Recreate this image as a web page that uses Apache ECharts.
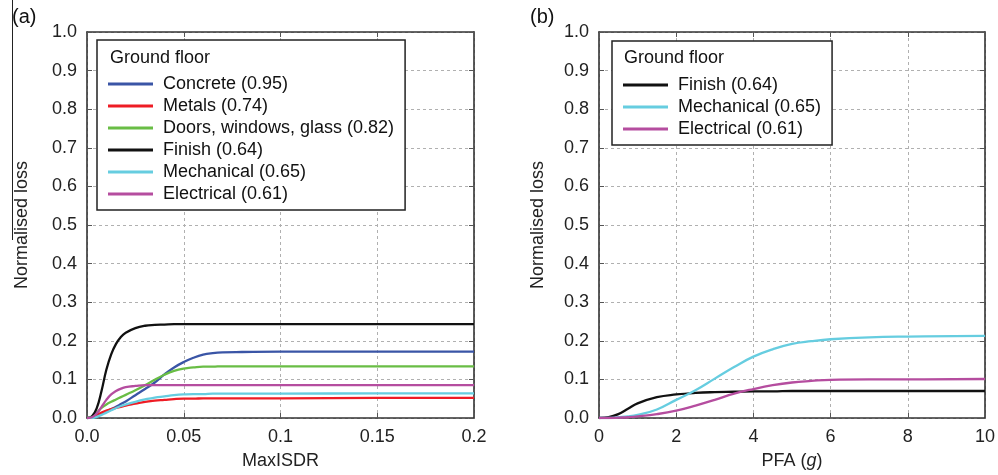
<!DOCTYPE html>
<html><head><meta charset="utf-8">
<script src="https://cdn.jsdelivr.net/npm/echarts@6/dist/echarts.min.js"></script>
<style>html,body{margin:0;padding:0;background:#fff}#c{width:998px;height:475px}</style>
</head><body><div id="c"></div>
<script>
// ---- Panel (a): MaxISDR ----
const xA = [0,0.0025,0.005,0.0075,0.01,0.0125,0.015,0.0175,0.02,0.025,0.03,0.035,0.04,0.045,0.05,0.055,0.06,0.065,0.07,0.08,0.1,0.15,0.2];
const concreteA = [0,0.001,0.005,0.011,0.017,0.023,0.029,0.036,0.043,0.059,0.075,0.092,0.113,0.131,0.145,0.156,0.164,0.168,0.17,0.171,0.172,0.172,0.172];
const metalsA   = [0,0.002,0.008,0.014,0.019,0.023,0.026,0.029,0.032,0.037,0.042,0.045,0.047,0.049,0.05,0.05,0.051,0.051,0.051,0.051,0.051,0.052,0.052];
const doorsA    = [0,0.004,0.014,0.026,0.035,0.042,0.048,0.054,0.06,0.072,0.085,0.099,0.112,0.122,0.128,0.131,0.133,0.133,0.134,0.134,0.134,0.134,0.134];
const finishA   = [0,0.004,0.025,0.07,0.125,0.165,0.192,0.21,0.221,0.233,0.239,0.241,0.242,0.243,0.243,0.243,0.243,0.243,0.243,0.243,0.243,0.243,0.243];
const mechA     = [0,0,0.003,0.008,0.014,0.02,0.026,0.031,0.035,0.042,0.048,0.053,0.056,0.059,0.061,0.062,0.062,0.063,0.063,0.063,0.063,0.064,0.064];
const elecA     = [0,0.002,0.012,0.029,0.047,0.061,0.07,0.076,0.08,0.083,0.085,0.085,0.085,0.085,0.085,0.085,0.085,0.085,0.085,0.085,0.085,0.085,0.085];
const xTicksA = ['0.0','0.05','0.1','0.15','0.2'];

// ---- Panel (b): PFA (g) ----
const xB = [0,0.25,0.5,0.75,1,1.5,2,2.5,3,3.5,4,4.5,5,5.5,6,7,8,10];
const finishB = [0,0.002,0.01,0.024,0.038,0.054,0.061,0.065,0.067,0.068,0.069,0.069,0.07,0.07,0.07,0.07,0.07,0.07];
const mechB   = [0,0,0.002,0.004,0.008,0.022,0.047,0.072,0.102,0.132,0.159,0.178,0.192,0.199,0.204,0.209,0.211,0.213];
const elecB   = [0,0,0.001,0.002,0.004,0.01,0.019,0.032,0.047,0.063,0.075,0.085,0.092,0.096,0.099,0.1,0.1,0.101];
const xTicksB = ['0','2','4','6','8','10'];

const namesA = ['Concrete (0.95)','Metals (0.74)','Doors, windows, glass (0.82)','Finish (0.64)','Mechanical (0.65)','Electrical (0.61)'];
const namesB = ['Finish (0.64)','Mechanical (0.65)','Electrical (0.61)'];
const colors = {
  'Concrete (0.95)':'#3a55a6','Metals (0.74)':'#ee1c25','Doors, windows, glass (0.82)':'#69bd45',
  'Finish (0.64)':'#111111','Mechanical (0.65)':'#66cde0','Electrical (0.61)':'#b54d9f'
};

const FONT = 'Liberation Sans, Arial, sans-serif';
const zip = (xs, ys) => xs.map((x,i)=>[x, ys[i]]);

function mkSeries(name, xs, ys, idx) {
  return {
    name, type:'line', xAxisIndex: idx, yAxisIndex: idx, data: zip(xs, ys),
    showSymbol:false, smooth:0.45,
    lineStyle:{color:colors[name], width:2.3}, itemStyle:{color:colors[name]},
    z: 3
  };
}

const gridLine = {show:true, lineStyle:{color:'#b0b0b0', type:[3,3], width:1}};
const labelStyle = {color:'#222', fontSize:18, fontFamily:FONT};

function xMain(idx, max, interval, ticks, name) {
  return {
    type:'value', gridIndex: idx, min:0, max, interval, position:'bottom',
    axisLine:{show:true, onZero:false, lineStyle:{color:'#333', width:1.6}},
    axisTick:{show:true, inside:true, length:5, lineStyle:{color:'#555'}},
    splitLine: gridLine,
    axisLabel: Object.assign({margin:10, formatter:(v)=>ticks[Math.round(v/interval)]}, labelStyle),
    name, nameLocation:'middle', nameGap:34,
    nameTextStyle:{color:'#222', fontSize:18, fontFamily:FONT,
      rich:{a:{fontSize:18, fontFamily:FONT, color:'#222'}, i:{fontSize:18, fontFamily:FONT, fontStyle:'italic', color:'#222'}}}
  };
}
function xTop(idx, max, interval) {
  return {
    type:'value', gridIndex: idx, min:0, max, interval, position:'top',
    axisLine:{show:true, onZero:false, lineStyle:{color:'#333', width:1.6}},
    axisTick:{show:true, inside:true, length:5, lineStyle:{color:'#555'}},
    splitLine:{show:false}, axisLabel:{show:false}
  };
}
function yMain(idx, gap) {
  return {
    type:'value', gridIndex: idx, min:0, max:1, interval:0.1, position:'left',
    axisLine:{show:true, onZero:false, lineStyle:{color:'#333', width:1.6}},
    axisTick:{show:true, inside:true, length:5, lineStyle:{color:'#555'}},
    splitLine: gridLine,
    axisLabel: Object.assign({margin:10, formatter:(v)=>v.toFixed(1)}, labelStyle),
    name:'Normalised loss', nameLocation:'middle', nameGap:gap,
    nameTextStyle:{color:'#222', fontSize:18, fontFamily:FONT}
  };
}
function yRight(idx) {
  return {
    type:'value', gridIndex: idx, min:0, max:1, interval:0.1, position:'right',
    axisLine:{show:true, onZero:false, lineStyle:{color:'#333', width:1.6}},
    axisTick:{show:true, inside:true, length:5, lineStyle:{color:'#555'}},
    splitLine:{show:false}, axisLabel:{show:false}
  };
}

const series = [
  mkSeries(namesA[0], xA, concreteA, 0),
  mkSeries(namesA[1], xA, metalsA, 0),
  mkSeries(namesA[2], xA, doorsA, 0),
  mkSeries(namesA[3], xA, finishA, 0),
  mkSeries(namesA[4], xA, mechA, 0),
  mkSeries(namesA[5], xA, elecA, 0),
  mkSeries(namesB[0], xB, finishB, 1),
  mkSeries(namesB[1], xB, mechB, 1),
  mkSeries(namesB[2], xB, elecB, 1)
];

const legendBase = {
  orient:'vertical', icon:'rect', itemWidth:45, itemHeight:3, itemGap:0,
  backgroundColor:'#fff', borderColor:'#222', borderWidth:1.5, borderRadius:0,
  textStyle:{color:'#111', fontSize:18, fontFamily:FONT, lineHeight:22, padding:[0,0,0,5]},
  selectedMode:false, z:10
};

const option = {
  backgroundColor:'#fff',
  animation:false,
  grid:[
    {left:87, top:32, width:387, height:387, containLabel:false},
    {left:599, top:32, width:388, height:387, containLabel:false}
  ],
  xAxis:[
    xMain(0, 0.2, 0.05, xTicksA, 'MaxISDR'),
    xMain(1, 10, 2, xTicksB, '{a|PFA (}{i|g}{a|)}'),
    xTop(0, 0.2, 0.05),
    xTop(1, 10, 2)
  ],
  yAxis:[ yMain(0, 56), yMain(1, 52), yRight(0), yRight(1) ],
  legend:[
    Object.assign({}, legendBase, {left:97, top:40, padding:[33,11,5,11], data:namesA}),
    Object.assign({}, legendBase, {left:612, top:41, padding:[33,11,5,11], data:namesB})
  ],
  graphic:[
    {type:'text', left:110, top:49, z:100, style:{text:'Ground floor', fontSize:18, fontFamily:FONT, fill:'#111'}},
    {type:'text', left:624, top:49, z:100, style:{text:'Ground floor', fontSize:18, fontFamily:FONT, fill:'#111'}},
    {type:'text', left:12, top:7, z:100, style:{text:'(a)', fontSize:20, fontFamily:FONT, fill:'#111'}},
    {type:'text', left:530, top:7, z:100, style:{text:'(b)', fontSize:20, fontFamily:FONT, fill:'#111'}},
    {type:'line', z:100, shape:{x1:12.5, y1:0, x2:12.5, y2:240}, style:{stroke:'#222', lineWidth:1}}
  ],
  series
};

const chart = echarts.init(document.getElementById('c'), null, {renderer:'canvas'});
chart.setOption(option);
</script>
</body></html>
